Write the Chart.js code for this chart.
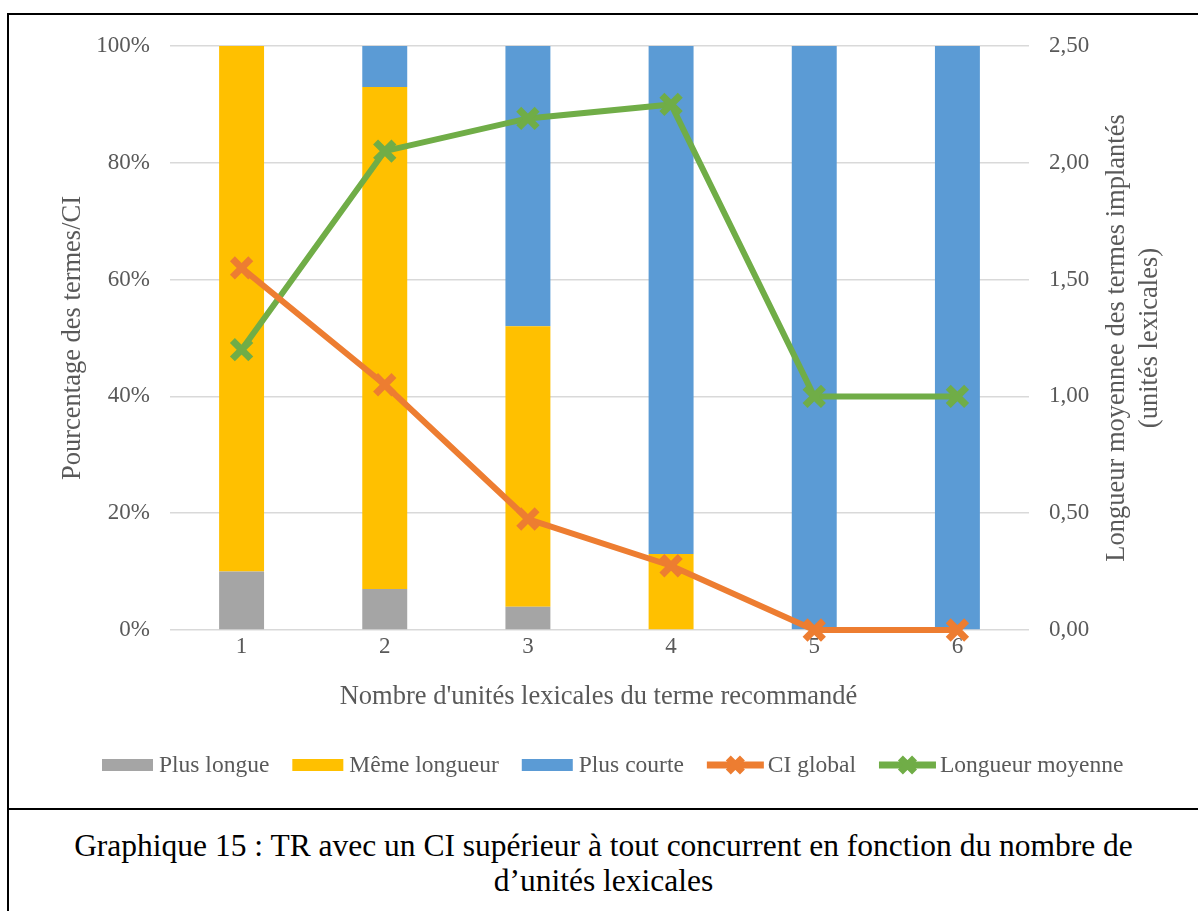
<!DOCTYPE html>
<html lang="fr">
<head>
<meta charset="utf-8">
<title>Graphique 15</title>
<script src="https://cdn.jsdelivr.net/npm/chart.js@4/dist/chart.umd.min.js"></script>
<style>
  html, body { margin: 0; padding: 0; background: #fff; }
  body { width: 1198px; height: 911px; position: relative; overflow: hidden; }
  #frame {
    position: absolute; left: 7px; top: 13px; width: 1200px; height: 920px;
    border-left: 2px solid #000; border-top: 2px solid #000;
  }
  #sep { position: absolute; left: 7px; top: 808px; width: 1200px; height: 0; border-top: 2px solid #000; }
  #wrap { position: absolute; left: 0; top: 0; width: 1198px; height: 806px; }
  #caption {
    position: absolute; left: 9px; right: 0; top: 828px;
    font: 31.5px "Liberation Serif", "Times New Roman", serif; color: #000;
    text-align: center; line-height: 35px;
  }
</style>
</head>
<body>
<div id="frame"></div>
<div id="sep"></div>
<div id="wrap"><canvas id="chart"></canvas></div>
<div id="caption">Graphique 15 : TR avec un CI supérieur à tout concurrent en fonction du nombre de<br>d’unités lexicales</div>
<script>
  // ===== Données =====
  const categories    = ['1', '2', '3', '4', '5', '6'];
  const plusLongue    = [10, 7, 4, 0, 0, 0];          // %
  const memeLongueur  = [90, 86, 48, 13, 0, 0];       // %
  const plusCourte    = [0, 7, 48, 87, 100, 100];     // %
  const ciGlobal      = [62, 42, 19, 11, 0, 0];       // %
  const longueurMoy   = [1.20, 2.05, 2.19, 2.25, 1.00, 1.00];
  const leftTicks     = [0, 20, 40, 60, 80, 100];
  const rightTicks    = [0, 0.5, 1, 1.5, 2, 2.5];

  const FONT  = '"Liberation Serif", "Times New Roman", serif';
  const GREY  = '#595959';
  const COLORS = { longue: '#A5A5A5', meme: '#FFC000', courte: '#5B9BD5', ci: '#ED7D31', moy: '#70AD47' };

  // dimensions de la zone de tracé
  const AREA = { left: 170, right: 1029, top: 46, bottom: 630 };

  const fmtComma = v => v.toFixed(2).replace('.', ',');

  // ===== Titres d'axes et légende dessinés à la main =====
  const decor = {
    id: 'decor',
    afterDraw(chart) {
      const ctx = chart.ctx;
      const ca = chart.chartArea;
      ctx.save();
      ctx.fillStyle = GREY;
      ctx.textBaseline = 'middle';
      ctx.textAlign = 'center';
      ctx.font = '26.5px ' + FONT;

      // titre axe X
      ctx.fillText("Nombre d'unités lexicales du terme recommandé", (ca.left + ca.right) / 2 - 1, 697);

      const midY = (ca.top + ca.bottom) / 2;
      // titre axe gauche
      ctx.save();
      ctx.translate(73, midY);
      ctx.rotate(-Math.PI / 2);
      ctx.fillText('Pourcentage des termes/CI', 0, 0);
      ctx.restore();

      // titre axe droit (deux lignes)
      ctx.save();
      ctx.translate(1117, midY);
      ctx.rotate(-Math.PI / 2);
      ctx.fillText('Longueur moyennee des termes implantés', 0, 0);
      ctx.fillText('(unités lexicales)', 0, 33);
      ctx.restore();

      // légende
      ctx.font = '23.5px ' + FONT;
      ctx.textAlign = 'left';
      const ly = 765;
      let x = 102;
      chart.data.datasets.forEach(ds => {
        if (ds.type === 'line') {
          ctx.strokeStyle = ds.borderColor;
          ctx.lineWidth = 7;
          ctx.beginPath();
          ctx.moveTo(x, ly); ctx.lineTo(x + 57, ly);
          ctx.stroke();
          Chart.helpers.drawPoint(ctx, {
            pointStyle: 'crossRot', radius: 10, borderWidth: 6
          }, x + 28.5, ly);
          x += 61;
        } else {
          ctx.fillStyle = ds.backgroundColor;
          ctx.fillRect(x, ly - 6, 51, 12);
          x += 57;
        }
        ctx.fillStyle = GREY;
        ctx.fillText(ds.label, x, ly + 1);
        x += ctx.measureText(ds.label).width + 23;
      });
      ctx.restore();
    }
  };

  const barDs = (label, data, color) => ({
    type: 'bar', label, data, backgroundColor: color, borderWidth: 0,
    yAxisID: 'y', stack: 's', order: 2,
    barPercentage: 0.314, categoryPercentage: 1
  });
  const lineDs = (label, data, color, axis) => ({
    type: 'line', label, data, borderColor: color, backgroundColor: color,
    borderWidth: 6, yAxisID: axis, order: 0, clip: false,
    pointStyle: 'crossRot', pointRadius: 13, pointBorderWidth: 7,
    pointBorderColor: color, pointHoverRadius: 13, tension: 0
  });

  new Chart(document.getElementById('chart'), {
    data: {
      labels: categories,
      datasets: [
        barDs('Plus longue', plusLongue, COLORS.longue),
        barDs('Même longueur', memeLongueur, COLORS.meme),
        barDs('Plus courte', plusCourte, COLORS.courte),
        lineDs('CI global', ciGlobal, COLORS.ci, 'y'),
        lineDs('Longueur moyenne', longueurMoy, COLORS.moy, 'y1')
      ]
    },
    options: {
      responsive: true,
      maintainAspectRatio: false,
      animation: false,
      layout: { padding: { left: 0, right: 0, top: AREA.top, bottom: 0 } },
      plugins: { legend: { display: false }, tooltip: { enabled: false }, title: { display: false } },
      scales: {
        x: {
          stacked: true,
          offset: true,
          grid: { display: false, drawTicks: false },
          border: { display: false },
          ticks: { color: GREY, font: { family: FONT, size: 23 }, padding: 3 },
          afterFit: s => { s.height = 806 - AREA.bottom; }
        },
        y: {
          position: 'left',
          stacked: true,
          min: 0, max: 100,
          afterBuildTicks: s => { s.ticks = leftTicks.map(v => ({ value: v })); },
          grid: { color: '#D9D9D9', lineWidth: 1.5, drawTicks: false },
          border: { display: false },
          ticks: { color: GREY, font: { family: FONT, size: 23 }, padding: 20, callback: v => v + '%' },
          afterFit: s => { s.width = AREA.left; }
        },
        y1: {
          position: 'right',
          min: 0, max: 2.5,
          afterBuildTicks: s => { s.ticks = rightTicks.map(v => ({ value: v })); },
          grid: { display: false, drawTicks: false },
          border: { display: false },
          ticks: { color: GREY, font: { family: FONT, size: 23 }, padding: 20, callback: v => fmtComma(v) },
          afterFit: s => { s.width = 1198 - AREA.right; }
        }
      }
    },
    plugins: [decor]
  });
</script>
</body>
</html>
